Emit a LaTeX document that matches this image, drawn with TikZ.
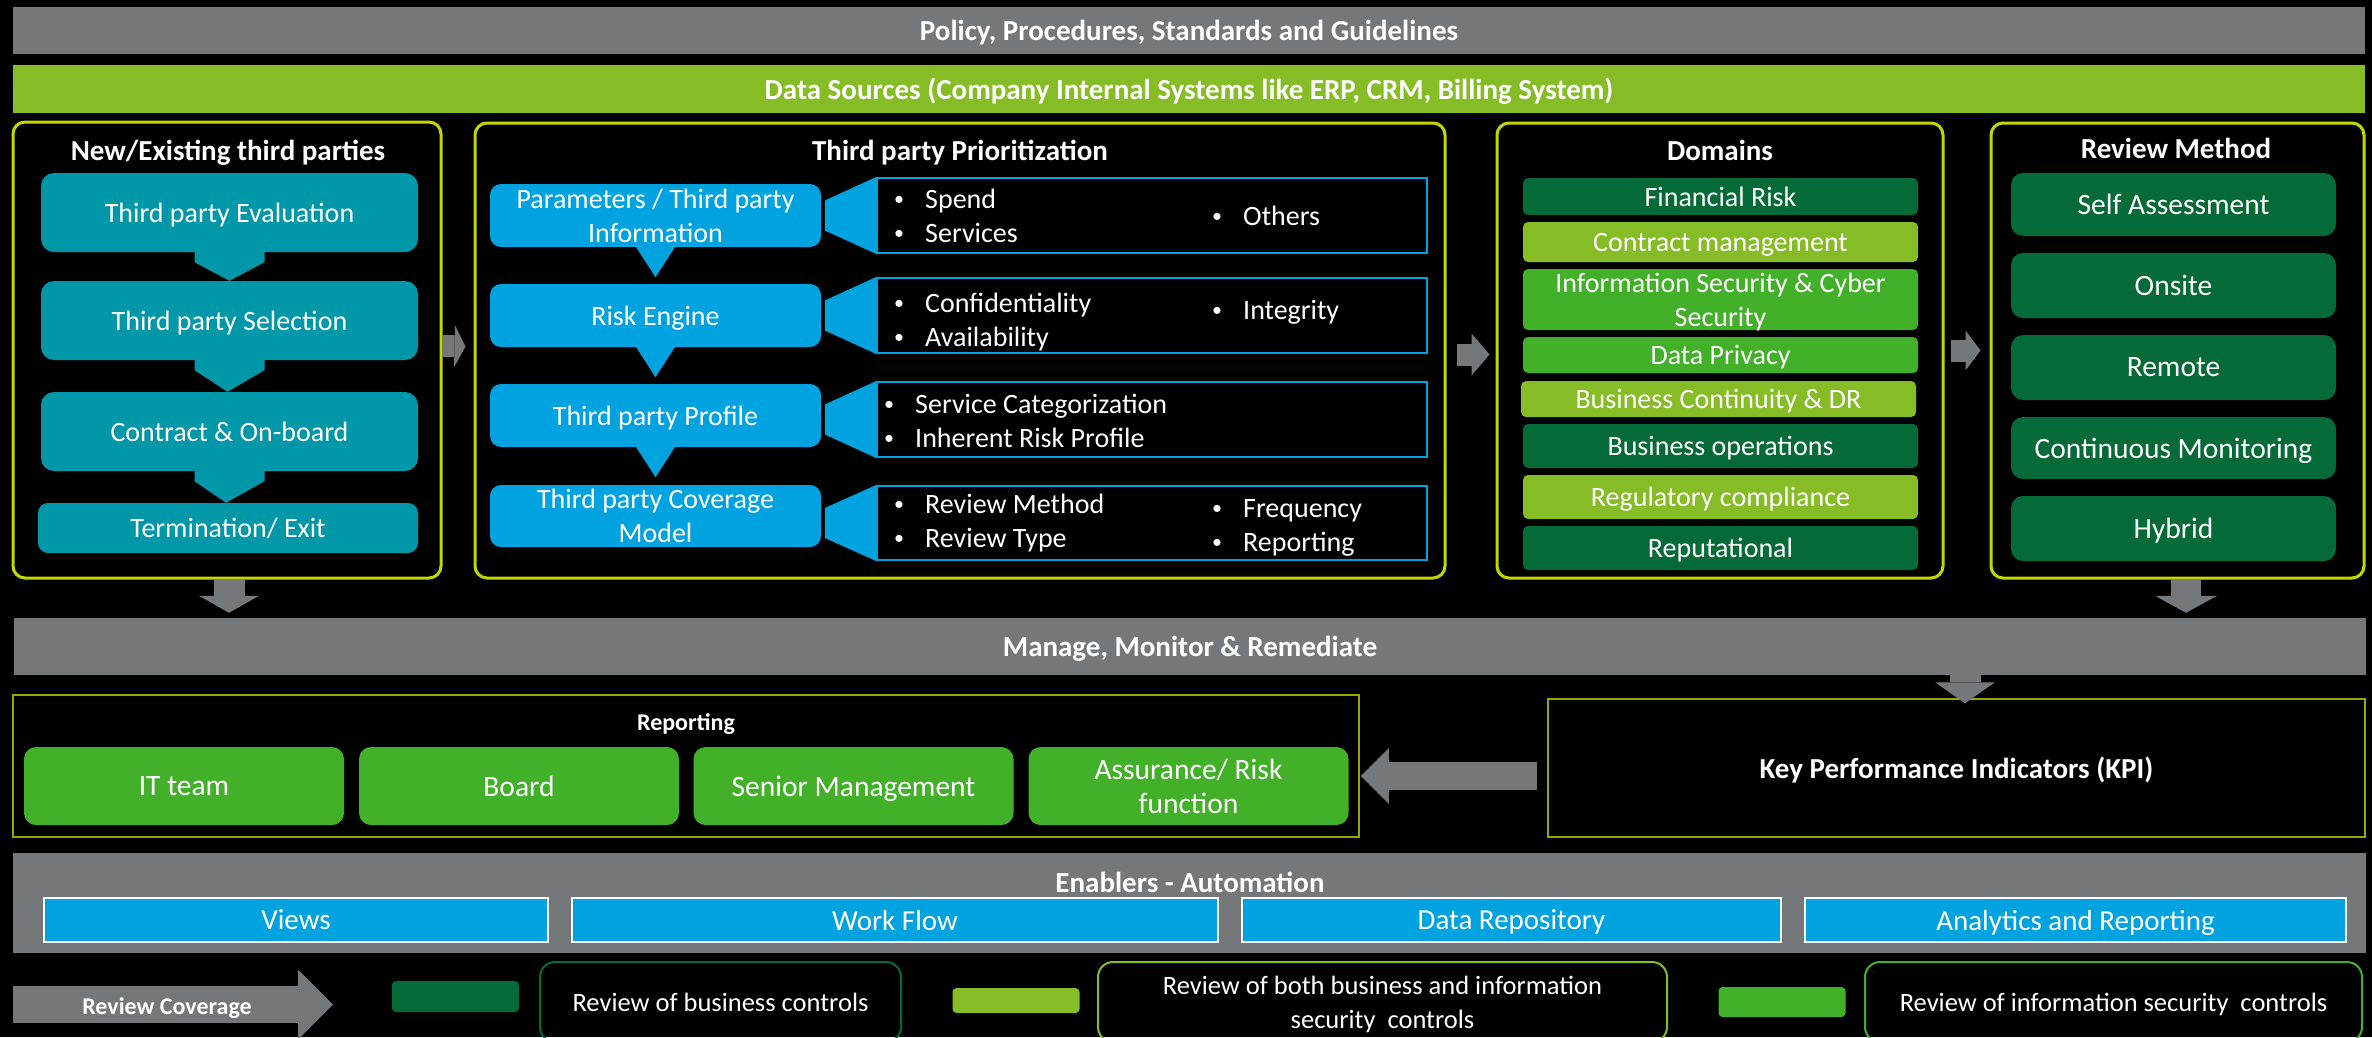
\documentclass[tikz,border=0pt]{standalone}
\usepackage{fontspec}
\setmainfont{Carlito}
\usetikzlibrary{arrows.meta, calc, positioning}

\definecolor{bargrey}{HTML}{75787B}
\definecolor{dkgreen}{HTML}{046A38}
\definecolor{ltgreen}{HTML}{86BC25}
\definecolor{mdgreen}{HTML}{43B02A}
\definecolor{tealbox}{HTML}{0097A9}
\definecolor{bluebox}{HTML}{00A3E0}
\definecolor{edgeyellow}{HTML}{C4D600}
\definecolor{edgeolive}{HTML}{98A400}

\newcommand\txt[1]{\fontsize{#1}{34}\selectfont}
\newcommand\bul[1]{\makebox[31pt][l]{\raisebox{3.5pt}{\fontsize{20}{20}\selectfont\textbullet}}#1}

\tikzset{
  every node/.style={text=white, font=\txt{28}, inner sep=0pt, align=center, text depth=0pt},
  bar/.style={fill=bargrey, minimum width=2352, minimum height=#1, font=\txt{29}\bfseries},
  panel/.style={draw=edgeyellow, line width=3, rounded corners=12},
  heading/.style={font=\txt{29}\bfseries},
  stage/.style={fill=tealbox, rounded corners=13, minimum width=377, minimum height=79},
  prio/.style={fill=bluebox, rounded corners=11, minimum width=331, minimum height=63},
  detail/.style={draw=bluebox, line width=2.5, minimum width=550, minimum height=75},
  items/.style={anchor=west, align=left},
  domain/.style={fill=#1, rounded corners=5, minimum width=395},
  method/.style={fill=dkgreen, rounded corners=12, minimum width=325, font=\txt{29.5}},
  audience/.style={fill=mdgreen, rounded corners=12, minimum width=320, minimum height=78, font=\txt{29.5}},
  enabler/.style={fill=bluebox, draw=white, line width=1.5, minimum height=44, font=\txt{29}},
  swatch/.style={fill=#1, rounded corners=4, minimum width=127},
  legend/.style={draw=#1, line width=2, rounded corners=15, minimum height=80, font=\txt{26.5}},
  fatarrow/.style n args={3}{draw=bargrey, line width=#1, -{Triangle[length=#3pt, width=#2pt, line width=0pt]}}
}

\begin{document}
\begin{tikzpicture}[x=1pt, y=-1pt]
\useasboundingbox (0,0) rectangle (2372,1037);
\clip (0,0) rectangle (2372,1037);
\fill[black] (0,0) rectangle (2372,1037);

\node[bar=47] (policy) at (1189,30.5) {Policy, Procedures, Standards and Guidelines};
\node[bar=48, fill=ltgreen] (datasrc) at (1189,89) {Data Sources (Company Internal Systems like ERP, CRM, Billing System)};

\node[panel, minimum width=428, minimum height=456] (thirdparties) at (227,350) {};
\node[panel, minimum width=970, minimum height=455] (prioritization) at (960,350.5) {};
\node[panel, minimum width=446, minimum height=455] (domains) at (1720,350.5) {};
\node[panel, minimum width=373, minimum height=455] (reviewmethod) at (2177.5,350.5) {};

\node[heading] (thirdpartiestitle) at (228,150) {New/Existing third parties};
\node[heading] (prioritizationtitle) at (960,150) {Third party Prioritization};
\node[heading] (domainstitle) at (1720,150) {Domains};
\node[heading] (reviewmethodtitle) at (2176,148) {Review Method};

\node[stage] (evaluation) at (229.5,212.5) {Third party Evaluation};
\node[stage] (selection) at (229.5,320.5) {Third party Selection};
\node[stage] (onboard) at (229.5,431.5) {Contract \& On-board};
\node[stage, minimum width=380, minimum height=50, rounded corners=10] (exit) at (228,528) {Termination/ Exit};

\fill[tealbox] ($(evaluation.south)+(-35,-1)$) -- ++(0,11) -- (selection.north) -- ($(evaluation.south)+(35,10)$) -- ++(0,-11) -- cycle;
\fill[tealbox] ($(selection.south)+(-35,-1)$) -- ++(0,11) -- ($(onboard.north)+(-2,0)$) -- ($(selection.south)+(35,10)$) -- ++(0,-11) -- cycle;
\fill[tealbox] ($(onboard.south)+(-35,-1)$) -- ++(0,11) -- ($(exit.north)+(-2,0)$) -- ($(onboard.south)+(35,10)$) -- ++(0,-11) -- cycle;

\node[prio] (parameters) at (655.5,215.5) {Parameters / Third party\\Information};
\node[prio] (riskengine) at (655.5,315.5) {Risk Engine};
\node[prio] (profile) at (655.5,415.5) {Third party Profile};
\node[prio, minimum height=62] (coverage) at (655.5,516) {Third party Coverage\\Model};

\foreach \from in {parameters, riskengine, profile}
  \fill[bluebox] ($(\from.south)+(-20,-1)$) -- ($(\from.south)+(0,30)$) -- ($(\from.south)+(20,-1)$) -- cycle;

\node[detail] (parameterlist) at (1152,215.5) {};
\node[detail] (risklist) at (1152,315.5) {};
\node[detail] (profilelist) at (1152,419.5) {};
\node[detail, minimum height=74] (coveragelist) at (1152,523) {};

\foreach \lst in {parameterlist, risklist, profilelist, coveragelist}
  \fill[bluebox] ($(\lst.west)+(-51,-15)$) -- ($(\lst.north west)+(1,0)$) -- ($(\lst.south west)+(1,0)$) -- ($(\lst.west)+(-51,15)$) -- cycle;

\node[items] (parameteritems) at (894,216) {\bul{Spend}\\\bul{Services}};
\node[items] (parameterother) at (1212,216) {\bul{Others}};
\node[items] (riskitems) at (894,320) {\bul{Confidentiality}\\\bul{Availability}};
\node[items] (riskother) at (1212,310) {\bul{Integrity}};
\node[items] (profileitems) at (884,421) {\bul{Service Categorization}\\\bul{Inherent Risk Profile}};
\node[items] (coverageitems) at (894,521) {\bul{Review Method}\\\bul{Review Type}};
\node[items] (coverageother) at (1212,526) {\bul{Frequency}\\\bul{Reporting}};

\node[domain=dkgreen, minimum height=37] (financial) at (1720.5,196.5) {Financial Risk};
\node[domain=ltgreen, minimum height=40] (contractmgmt) at (1720.5,242) {Contract management};
\node[domain=mdgreen, minimum height=61] (infosec) at (1720.5,299.5) {Information Security \& Cyber\\Security};
\node[domain=mdgreen, minimum height=36] (privacy) at (1720.5,355) {Data Privacy};
\node[domain=ltgreen, minimum height=36] (continuity) at (1718.5,399) {Business Continuity \& DR};
\node[domain=dkgreen, minimum height=44] (operations) at (1720.5,446) {Business operations};
\node[domain=ltgreen, minimum height=44] (regulatory) at (1720.5,497) {Regulatory compliance};
\node[domain=dkgreen, minimum height=44] (reputational) at (1720.5,548) {Reputational};

\node[method, minimum height=63] (selfassess) at (2173.5,204.5) {Self Assessment};
\node[method, minimum height=65] (onsite) at (2173.5,285.5) {Onsite};
\node[method, minimum height=65] (remote) at (2173.5,367.5) {Remote};
\node[method, minimum height=62] (monitoring) at (2173.5,448) {Continuous Monitoring};
\node[method, minimum height=65] (hybrid) at (2173.5,528.5) {Hybrid};

\draw[fatarrow={22}{42}{11}] ($(thirdparties.east)+(0,-4)$) -- ($(prioritization.west)+(-8,-4)$);
\draw[fatarrow={22}{42}{18}] ($(prioritization.east)+(10,4)$) -- ($(domains.west)+(-6,4)$);
\draw[fatarrow={22}{40}{15}] ($(domains.east)+(6,0)$) -- ($(reviewmethod.west)+(-9,0)$);

\node[bar=57] (manage) at (1190,646.5) {Manage, Monitor \& Remediate};

\draw[fatarrow={31}{60}{17}] ($(thirdparties.south)+(2,0)$) -- ($(thirdparties.south |- manage.north)+(2,-5)$);
\draw[fatarrow={30}{62}{17}] ($(reviewmethod.south)+(8.5,0)$) -- ($(reviewmethod.south |- manage.north)+(8.5,-5)$);

\node[draw=edgeolive, line width=1.5, minimum width=1346, minimum height=142] (reporting) at (686,766) {};
\node[font=\txt{24}\bfseries] (reportingtitle) at (686,722) {Reporting};
\node[audience] (itteam) at (184,786) {IT team};
\node[audience] (board) at (519,786) {Board};
\node[audience] (senior) at (853.5,786) {Senior Management};
\node[audience] (assurance) at (1188.5,786) {Assurance/ Risk\\function};

\node[draw=edgeolive, line width=1.5, minimum width=817, minimum height=138, font=\txt{29}\bfseries] (kpi) at (1956.5,768) {Key Performance Indicators (KPI)};

\draw[fatarrow={31}{60}{21}] ($(manage.south -| kpi.north)+(8.5,0)$) -- ($(kpi.north)+(8.5,5)$);
\draw[fatarrow={28}{56}{28}] ($(kpi.west)+(-10,8)$) -- ($(kpi.west -| reporting.east)+(1,8)$);

\node[bar=100, minimum width=2353] (enablers) at (1189.5,903) {};
\node[heading] (enablerstitle) at (1190,882) {Enablers - Automation};
\node[enabler, minimum width=504] (views) at (296,920) {Views};
\node[enabler, minimum width=646] (workflow) at (895,920) {Work Flow};
\node[enabler, minimum width=539] (repository) at (1511.5,920) {Data Repository};
\node[enabler, minimum width=541] (analytics) at (2075.5,920) {Analytics and Reporting};

\coordinate (coveragetail) at (13,1004.5);
\coordinate (coveragetip) at (333,1004.5);
\draw[fatarrow={37}{70}{35}] (coveragetail) -- (coveragetip);
\node[font=\txt{24}\bfseries] (coveragelabel) at (167,1006) {Review Coverage};

\node[swatch=dkgreen, minimum height=31] (businesskey) at (455.5,996.5) {};
\node[legend=dkgreen, minimum width=361] (business) at (720.5,1002) {Review of business controls};
\node[swatch=ltgreen, minimum height=25] (bothkey) at (1016,1000.5) {};
\node[legend=ltgreen, minimum width=569] (both) at (1382.5,1002) {Review of both business and information\\security\ \ controls};
\node[swatch=mdgreen, minimum height=30] (infoseckey) at (1782,1002) {};
\node[legend=mdgreen, minimum width=497] (infosecctl) at (2113.5,1002) {Review of information security\ \ controls};
\end{tikzpicture}
\end{document}
